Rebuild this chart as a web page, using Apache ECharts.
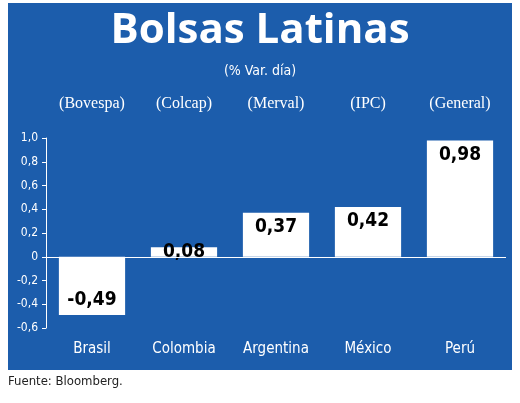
<!DOCTYPE html>
<html><head><meta charset="utf-8">
<script src="https://cdn.jsdelivr.net/npm/echarts@6/dist/echarts.min.js"></script>
<style>html,body{margin:0;padding:0;background:#fff}#c{width:520px;height:403px}</style>
</head><body><div id="c"></div>
<script>
const countries = ['Brasil','Colombia','Argentina','México','Perú'];
const indices = ['(Bovespa)','(Colcap)','(Merval)','(IPC)','(General)'];
const values = [-0.49, 0.08, 0.37, 0.42, 0.98];
const yTicks = {min:-0.6, max:1.0, interval:0.2};
const fmt = v => v.toFixed(v===0?0:(Math.abs(v*10-Math.round(v*10))<1e-9?1:2)).replace('.', ',');
const chart = echarts.init(document.getElementById('c'));
const narrow = "'Liberation Sans Narrow','DejaVu Sans Condensed',sans-serif";
chart.setOption({
  backgroundColor:'#fff',
  graphic:[
    {type:'rect',left:8,top:3,shape:{width:504,height:367},style:{fill:'#1c5dac'},z:-10},
    {type:'text',left:'center',top:10,style:{text:'Bolsas Latinas',fill:'#fff',font:"bold 42px 'Open Sans',sans-serif"}},
    {type:'text',left:'center',top:64,style:{text:'(% Var. día)',fill:'#fff',font:"14px "+narrow}},
    {type:'text',left:8,top:375,style:{text:'Fuente: Bloomberg.',fill:'#222',font:"13px "+narrow}}
  ],
  grid:{left:46,right:14,top:138,bottom:75},
  xAxis:[
    {type:'category',data:countries,position:'bottom',axisLine:{show:false},axisTick:{show:false},
     axisLabel:{color:'#fff',fontSize:15,fontFamily:narrow,margin:14}},
    {type:'category',data:indices,position:'top',offset:18,axisLine:{show:false},axisTick:{show:false},
     axisLabel:{color:'#fff',fontSize:16,fontFamily:"'Liberation Serif',serif"}}
  ],
  yAxis:{type:'value',min:yTicks.min,max:yTicks.max,interval:yTicks.interval,
    axisLine:{show:true,lineStyle:{color:'#fff'}},axisTick:{show:true,length:4,lineStyle:{color:'#fff'}},
    splitLine:{show:false},
    axisLabel:{color:'#fff',fontSize:12,fontFamily:narrow,formatter:v=>fmt(Math.round(v*10)/10)}},
  series:[{type:'bar',data:values.map(v=>({value:v,label:{position:v<0?'insideBottom':(v<0.1?'inside':'insideTop')}})),
    barWidth:'72%',itemStyle:{color:'#fff'},
    label:{show:true,color:'#000',fontWeight:'bold',fontSize:19,fontFamily:narrow,
      formatter:p=>p.value.toFixed(2).replace('.',',')},
    markLine:{silent:true,symbol:'none',label:{show:false},lineStyle:{color:'#fff',type:'solid',width:1},data:[{yAxis:0}]}
  }]
});
</script></body></html>
